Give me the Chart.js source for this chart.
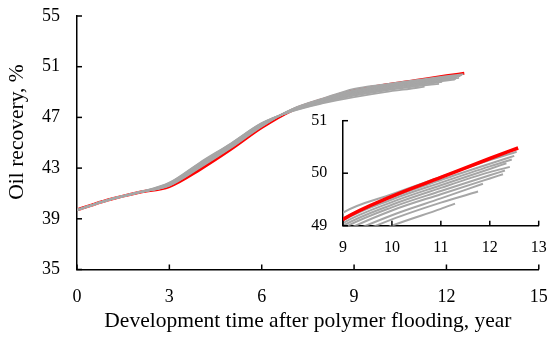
<!DOCTYPE html>
<html>
<head>
<meta charset="utf-8">
<script src="https://cdn.jsdelivr.net/npm/chart.js@4/dist/chart.umd.min.js"></script>
<style>
  body { margin: 0; background: #fff; }
  #wrap { position: relative; width: 550px; height: 338px; }
  #inset { position: absolute; left: 290px; top: 105px; }
</style>
</head>
<body>
<div id="wrap">
  <canvas id="main" width="550" height="338"></canvas>
  <canvas id="inset" width="258" height="160"></canvas>
</div>
<script>
// yearly samples, development time after polymer flooding
const years = [0, 1, 2, 3, 4, 5, 6, 7, 8, 9, 10, 11, 12];

// red (base) case
const redRecovery = [39.7, 40.48, 41.08, 41.55, 42.9, 44.48, 46.2, 47.58, 48.42, 49.12, 49.56, 49.92, 50.28];
const redEndYear = 12.58;
const redEndValue = 50.48;

// gray runs, one row per run
const grayRuns = [
  [39.7, 40.48, 41.08, 41.62, 43.05, 44.6, 46.28, 47.66, 48.5, 49.25, 49.6, 49.93, 50.25],
  [39.7, 40.48, 41.08, 41.64, 43.1, 44.65, 46.32, 47.65, 48.45, 49.13, 49.54, 49.87, 50.18],
  [39.7, 40.48, 41.08, 41.66, 43.14, 44.68, 46.35, 47.63, 48.4, 49.1, 49.5, 49.82, 50.13],
  [39.7, 40.48, 41.08, 41.68, 43.18, 44.72, 46.38, 47.62, 48.38, 49.05, 49.45, 49.77, 50.08],
  [39.7, 40.48, 41.08, 41.7, 43.22, 44.75, 46.4, 47.6, 48.35, 49.0, 49.4, 49.72, 50.02],
  [39.7, 40.48, 41.08, 41.73, 43.27, 44.8, 46.44, 47.58, 48.32, 48.95, 49.35, 49.66, 49.96],
  [39.7, 40.48, 41.08, 41.75, 43.3, 44.84, 46.47, 47.56, 48.28, 48.88, 49.29, 49.6, 49.9],
  [39.7, 40.48, 41.08, 41.78, 43.35, 44.88, 46.5, 47.54, 48.24, 48.8, 49.2, 49.52],
  [39.7, 40.48, 41.08, 41.82, 43.4, 44.92, 46.53, 47.52, 48.18, 48.72, 49.12, 49.44],
  [39.7, 40.48, 41.08, 41.85, 43.45, 44.95, 46.55, 47.5, 48.12, 48.6, 49.0, 49.32]
];
const runEndYear = [12.55, 12.5, 12.45, 12.34, 12.41, 12.31, 12.27, 11.86, 11.76, 11.29];
const runEndValue = [50.41, 50.33, 50.26, 50.19, 50.12, 50.05, 49.98, 49.8, 49.65, 49.42];

const mainXTicks = [0, 3, 6, 9, 12, 15];
const mainYTicks = [35, 39, 43, 47, 51, 55];
const insetXTicks = [9, 10, 11, 12, 13];
const insetYTicks = [49, 50, 51];

const toPoints = (vals, endX, endY) =>
  vals.map((v, i) => ({ x: years[i], y: v })).concat([{ x: endX, y: endY }]);

const serif = "'Liberation Serif', 'Times New Roman', serif";

// ticks pointing into the plot area
const inwardTicks = {
  id: "inwardTicks",
  afterDraw(chart, args, opts) {
    const { ctx, chartArea } = chart;
    const xs = chart.scales.x;
    const ys = chart.scales.y;
    ctx.save();
    ctx.strokeStyle = "#000";
    ctx.lineWidth = 1.5;
    xs.ticks.forEach((t, i) => {
      const px = xs.getPixelForTick(i);
      ctx.beginPath();
      ctx.moveTo(px, chartArea.bottom);
      ctx.lineTo(px, chartArea.bottom - opts.length);
      ctx.stroke();
    });
    ys.ticks.forEach((t, i) => {
      const py = ys.getPixelForTick(i);
      ctx.beginPath();
      ctx.moveTo(chartArea.left, py);
      ctx.lineTo(chartArea.left + opts.length, py);
      ctx.stroke();
    });
    ctx.restore();
  },
};

const makeDatasets = (redWidth, grayWidth, redOnTop) => {
  const sets = [
    {
      data: toPoints(redRecovery, redEndYear, redEndValue),
      borderColor: "#ff0000",
      borderWidth: redWidth,
      order: redOnTop ? 0 : 1,
    },
  ];
  grayRuns.forEach((run, i) => {
    sets.push({
      data: toPoints(run, runEndYear[i], runEndValue[i]),
      borderColor: "#a6a6a6",
      borderWidth: grayWidth,
      order: redOnTop ? 1 : 0,
    });
  });
  return sets.map((s) => ({
    ...s,
    pointRadius: 0,
    cubicInterpolationMode: "monotone",
    fill: false,
  }));
};

// fixed box sizes, no extra room for label overflow
const fixX = (h) => (scale) => {
  scale.height = h;
  scale.paddingLeft = 0;
  scale.paddingRight = 0;
};
const fixY = (w) => (scale) => {
  scale.width = w;
  scale.paddingTop = 0;
  scale.paddingBottom = 0;
};

const axisOpts = (min, max, tickVals, fontSize, pad, extra) => ({
  type: "linear",
  min: min,
  max: max,
  afterBuildTicks: (scale) => {
    scale.ticks = tickVals.map((v) => ({ value: v }));
  },
  ticks: {
    color: "#000",
    font: { family: serif, size: fontSize },
    padding: pad,
  },
  grid: { drawOnChartArea: false, drawTicks: false },
  border: { display: true, color: "#000", width: 1.5 },
  ...extra,
});

// main chart
new Chart(document.getElementById("main"), {
  type: "line",
  data: { datasets: makeDatasets(3, 1.8, false) },
  options: {
    responsive: false,
    animation: false,
    layout: { padding: { top: 16, right: 11.2, left: 0, bottom: 0 } },
    plugins: {
      legend: { display: false },
      tooltip: { enabled: false },
      inwardTicks: { length: 5 },
    },
    scales: {
      x: axisOpts(0, 15, mainXTicks, 18, 17, {
        title: {
          display: true,
          text: "Development time after polymer flooding, year",
          color: "#000",
          font: { family: serif, size: 21.5 },
          padding: { top: 0, bottom: 4 },
        },
        afterFit: fixX(68.5),
      }),
      y: axisOpts(35, 55, mainYTicks, 18, 17, {
        title: {
          display: true,
          text: "    Oil recovery, %",
          color: "#000",
          font: { family: serif, size: 21.5 },
          padding: { top: 4, bottom: 0 },
        },
        afterFit: fixY(77),
      }),
    },
  },
  plugins: [inwardTicks],
});

// inset zoom on the late period
new Chart(document.getElementById("inset"), {
  type: "line",
  data: { datasets: makeDatasets(3.5, 2, true) },
  options: {
    responsive: false,
    animation: false,
    layout: { padding: { top: 15.7, right: 9.3, left: 0, bottom: 0 } },
    plugins: {
      legend: { display: false },
      tooltip: { enabled: false },
      inwardTicks: { length: 5 },
    },
    scales: {
      x: axisOpts(9, 13, insetXTicks, 16, 12, {
        afterFit: fixX(39.3),
      }),
      y: axisOpts(49, 51, insetYTicks, 16, 15.7, {
        afterFit: fixY(53),
      }),
    },
  },
  plugins: [inwardTicks],
});
</script>
</body>
</html>
